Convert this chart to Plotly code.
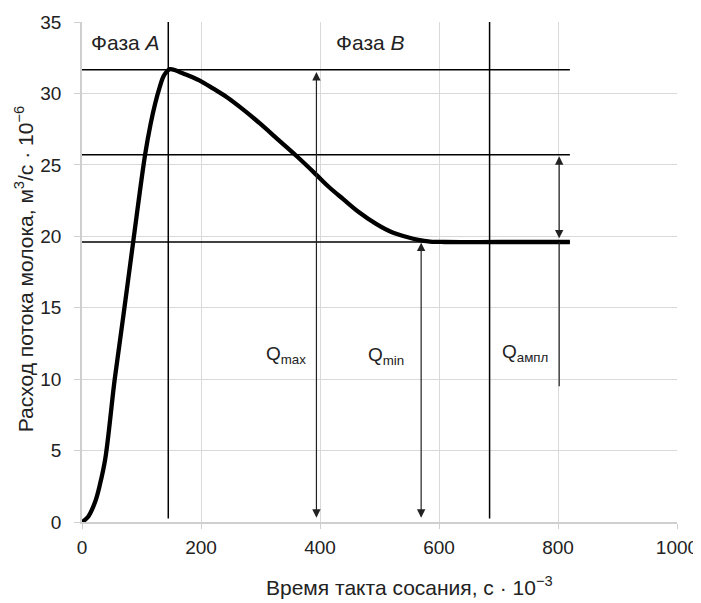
import plotly.graph_objects as go

# Flow curve
curve_x = [0, 10, 22, 30, 39, 55, 71, 86, 106, 115, 123, 131, 137, 143, 148, 158, 170, 185, 198, 220, 243, 270, 299, 330, 361,
           394, 415, 439, 465, 495, 520, 546, 565, 585, 610, 700, 820]
curve_y = [0, 0.35, 1.4, 2.6, 4.4, 10.0, 14.9, 19.6, 25.7, 27.8, 29.3, 30.5, 31.2, 31.55, 31.7, 31.6, 31.4, 31.15, 30.9, 30.35, 29.75, 28.9, 27.9, 26.75, 25.6,
           24.3, 23.45, 22.6, 21.7, 20.85, 20.3, 19.95, 19.75, 19.63, 19.6, 19.6, 19.6]

# Reference levels
q_levels = [31.65, 25.7, 19.6]
level_x_end = 820
phase_bounds = [145, 685]

# Arrows: (x, y_from, y_to)
arrows = [(394, 0.2, 31.5), (570, 0.2, 19.55), (802, 19.75, 25.6)]
ampl_tail = (802, 19.6, 9.5)

labels = [("Q<sub>max</sub>", 379, 11.66, "right"),
          ("Q<sub>min</sub>", 478, 11.6, "left"),
          ("Q<sub>ампл</sub>", 703, 11.8, "left")]
phase_labels = [("Фаза <i>A</i>", 12, 33.55), ("Фаза <i>B</i>", 424, 33.55)]

x_ticks = [0, 200, 400, 600, 800, 1000]
y_ticks = [0, 5, 10, 15, 20, 25, 30, 35]

FONT = "Liberation Sans, Arial, sans-serif"
fig = go.Figure()

fig.add_trace(go.Scatter(x=curve_x, y=curve_y, mode="lines",
                         line=dict(color="black", width=4.3, shape="spline", smoothing=1.0),
                         showlegend=False, hoverinfo="skip"))

shapes = []
for yv in q_levels:
    shapes.append(dict(type="line", xref="x", yref="y", x0=0, x1=level_x_end, y0=yv, y1=yv,
                       line=dict(color="black", width=1.5), layer="above"))
for xv in phase_bounds:
    shapes.append(dict(type="line", xref="x", yref="y", x0=xv, x1=xv, y0=0.25, y1=35,
                       line=dict(color="black", width=1.5), layer="above"))
shapes.append(dict(type="line", xref="x", yref="y", x0=ampl_tail[0], x1=ampl_tail[0],
                   y0=ampl_tail[1], y1=ampl_tail[2], line=dict(color="#222", width=1.2)))

annotations = []
for (xv, y0, y1) in arrows:
    annotations.append(dict(x=xv, y=y1, ax=xv, ay=y0, xref="x", yref="y", axref="x", ayref="y",
                            showarrow=True, arrowhead=2, arrowside="end+start", arrowsize=1.4,
                            arrowwidth=1.2, arrowcolor="#222", text=""))
for (t, xv, yv, anc) in labels:
    annotations.append(dict(x=xv, y=yv, xref="x", yref="y", text=t, showarrow=False,
                            xanchor=anc, yanchor="middle", font=dict(size=19, color="#222", family=FONT)))
for (t, xv, yv) in phase_labels:
    annotations.append(dict(x=xv, y=yv, xref="x", yref="y", text=t, showarrow=False,
                            xanchor="left", yanchor="middle", font=dict(size=21, color="#222", family=FONT)))

annotations.append(dict(x=551, y=-0.128, xref="x", yref="paper",
                        text="Время такта сосания, с · 10<sup>−3</sup>", showarrow=False,
                        xanchor="center", yanchor="middle", font=dict(size=21, color="#222", family=FONT)))
annotations.append(dict(x=-0.097, y=0.506, xref="paper", yref="paper", textangle=-90,
                        text="Расход потока молока, м<sup>3</sup>/с · 10<sup>−6</sup>", showarrow=False,
                        xanchor="center", yanchor="middle", font=dict(size=21, color="#222", family=FONT)))

fig.update_layout(
    width=693, height=595,
    margin=dict(l=74, r=24, t=14, b=81, autoexpand=False),
    plot_bgcolor="white", paper_bgcolor="white",
    font=dict(family=FONT, size=19, color="#222"),
    shapes=shapes, annotations=annotations,
    xaxis=dict(range=[0, 1000], tickvals=x_ticks, showgrid=True, gridcolor="#d9d9d9", gridwidth=1,
               showline=True, linecolor="#cfcfcf", linewidth=1.5, zeroline=False, automargin=False,
               ticks="outside", ticklen=5, tickcolor="#cfcfcf", mirror=False, ticklabelstandoff=2),
    yaxis=dict(range=[0, 35], tickvals=y_ticks, showgrid=True, gridcolor="#d9d9d9", gridwidth=1,
               showline=True, linecolor="#cfcfcf", linewidth=1.5, zeroline=False, automargin=False,
               ticks="outside", ticklen=6, tickcolor="#cfcfcf", ticklabelstandoff=9),
)

fig.write_html("out.html")
